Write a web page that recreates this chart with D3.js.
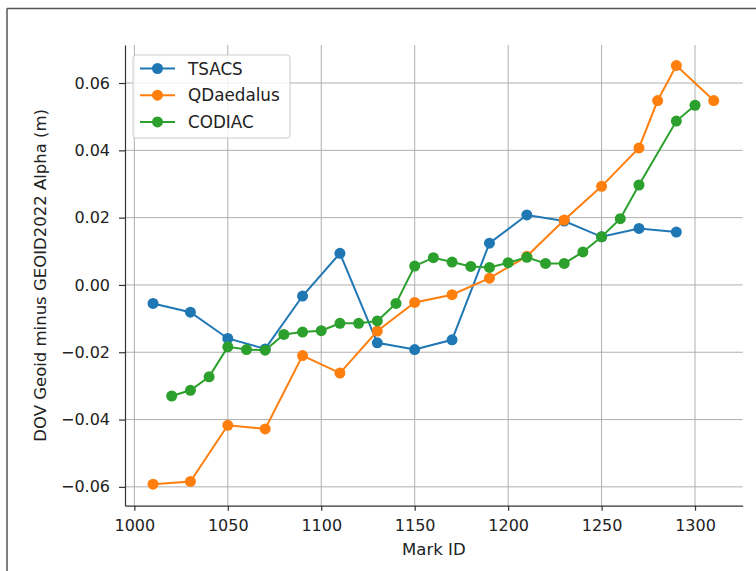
<!DOCTYPE html>
<html lang="en">
  <head>
    <meta charset="UTF-8" />
    <title>DOV Geoid minus GEOID2022 Alpha</title>
    <script src="https://d3js.org/d3.v7.min.js"></script>
    <style>
      body { margin: 0; background: #fff; }
      svg { display: block; font-family: "DejaVu Sans", sans-serif; }
      .grid line { stroke: #b0b0b0; stroke-width: 1; }
      .axis path, .axis line { stroke: #333; stroke-width: 1.2; }
      .axis text { font-size: 16px; fill: #222; font-family: "DejaVu Sans", sans-serif; }
    </style>
  </head>
  <body>
    <svg width="756" height="571"></svg>
<script>

// data
var tsacsX = [1010, 1030, 1050, 1070, 1090, 1110, 1130, 1150, 1170, 1190, 1210, 1230, 1250, 1270, 1290];
var tsacsY = [-0.0055, -0.0081, -0.0159, -0.0190, -0.0033, 0.0094, -0.0172, -0.0192, -0.0163, 0.0124, 0.0208, 0.0190, 0.0143, 0.0168, 0.0157];

var qdX = [1010, 1030, 1050, 1070, 1090, 1110, 1130, 1150, 1170, 1190, 1210, 1230, 1250, 1270, 1280, 1290, 1310];
var qdY = [-0.0592, -0.0584, -0.0417, -0.0428, -0.0210, -0.0262, -0.0137, -0.0052, -0.0029, 0.0020, 0.0085, 0.0193, 0.0293, 0.0407, 0.0548, 0.0652, 0.0548];

var codiacX = [1020, 1030, 1040, 1050, 1060, 1070, 1080, 1090, 1100, 1110, 1120, 1130, 1140, 1150,
               1160, 1170, 1180, 1190, 1200, 1210, 1220, 1230, 1240, 1250, 1260, 1270, 1290, 1300];
var codiacY = [-0.0330, -0.0313, -0.0273, -0.0184, -0.0192, -0.0194, -0.0147, -0.0140, -0.0136, -0.0114, -0.0114, -0.0107, -0.0055, 0.0056,
               0.0081, 0.0068, 0.0055, 0.0052, 0.0066, 0.0082, 0.0064, 0.0064, 0.0098, 0.0143, 0.0197, 0.0297, 0.0487, 0.0534];

var xTicks = [1000, 1050, 1100, 1150, 1200, 1250, 1300];
var yTicks = [-0.06, -0.04, -0.02, 0.00, 0.02, 0.04, 0.06];

var seriesNames = ["TSACS", "QDaedalus", "CODIAC"];
var colors = ["#1f77b4", "#ff7f0e", "#2ca02c"];

var series = [
  { name: seriesNames[0], color: colors[0], pts: tsacsX.map(function (x, i) { return [x, tsacsY[i]]; }) },
  { name: seriesNames[1], color: colors[1], pts: qdX.map(function (x, i) { return [x, qdY[i]]; }) },
  { name: seriesNames[2], color: colors[2], pts: codiacX.map(function (x, i) { return [x, codiacY[i]]; }) }
];

var svg = d3.select("svg");

// frame lines of the screenshot
svg.append("line").attr("x1", 7).attr("x2", 756).attr("y1", 8.5).attr("y2", 8.5)
   .attr("stroke", "#555").attr("stroke-width", 1.5);
svg.append("line").attr("x1", 7).attr("x2", 7).attr("y1", 8.5).attr("y2", 571)
   .attr("stroke", "#555").attr("stroke-width", 1.5);

var plotLeft = 125, plotRight = 742.7, plotTop = 45, plotBottom = 505.7;

var xScale = d3.scaleLinear().domain([995, 1325.5]).range([plotLeft, plotRight]);
var yScale = d3.scaleLinear().domain([-0.0656, 0.0713]).range([plotBottom, plotTop]);

// grid
var grid = svg.append("g").attr("class", "grid");
grid.selectAll(".gx").data(xTicks).enter().append("line")
    .attr("x1", function (d) { return xScale(d); }).attr("x2", function (d) { return xScale(d); })
    .attr("y1", plotTop).attr("y2", plotBottom);
grid.selectAll(".gy").data(yTicks).enter().append("line")
    .attr("x1", plotLeft).attr("x2", plotRight)
    .attr("y1", function (d) { return yScale(d); }).attr("y2", function (d) { return yScale(d); });

// axes
svg.append("g")
   .attr("class", "axis")
   .attr("transform", "translate(0," + plotBottom + ")")
   .call(d3.axisBottom(xScale).tickValues(xTicks).tickFormat(d3.format("d")).tickSize(5).tickPadding(9).tickSizeOuter(0));

svg.append("g")
   .attr("class", "axis")
   .attr("transform", "translate(" + plotLeft + ",0)")
   .call(d3.axisLeft(yScale).tickValues(yTicks).tickFormat(d3.format(".2f")).tickSize(6).tickPadding(9).tickSizeOuter(0));

svg.append("text")
   .attr("x", (plotLeft + plotRight) / 2)
   .attr("y", 555)
   .attr("text-anchor", "middle")
   .attr("font-size", "16.5px")
   .attr("fill", "#222")
   .text("Mark ID");

svg.append("text")
   .attr("transform", "translate(46," + (plotTop + plotBottom) / 2 + ") rotate(-90)")
   .attr("text-anchor", "middle")
   .attr("font-size", "16.5px")
   .attr("fill", "#222")
   .text("DOV Geoid minus GEOID2022 Alpha (m)");

// lines and markers
var line = d3.line().x(function (d) { return xScale(d[0]); }).y(function (d) { return yScale(d[1]); });

series.forEach(function (s) {
  var g = svg.append("g");
  g.append("path")
   .datum(s.pts)
   .attr("d", line)
   .attr("fill", "none")
   .attr("stroke", s.color)
   .attr("stroke-width", 2);
  g.selectAll("circle")
   .data(s.pts)
   .enter().append("circle")
   .attr("cx", function (d) { return xScale(d[0]); })
   .attr("cy", function (d) { return yScale(d[1]); })
   .attr("r", 5.5)
   .attr("fill", s.color);
});

// legend
var lg = svg.append("g");
lg.append("rect")
  .attr("x", 133).attr("y", 55).attr("width", 157).attr("height", 83)
  .attr("rx", 3)
  .attr("fill", "#fff").attr("fill-opacity", 0.8)
  .attr("stroke", "#ccc");

series.forEach(function (s, i) {
  var ly = 68.5 + i * 26.7;
  lg.append("line").attr("x1", 140).attr("x2", 175).attr("y1", ly).attr("y2", ly)
    .attr("stroke", s.color).attr("stroke-width", 2);
  lg.append("circle").attr("cx", 157.5).attr("cy", ly).attr("r", 5.5).attr("fill", s.color);
  lg.append("text").attr("x", 188).attr("y", ly).attr("dy", "0.36em")
    .attr("font-size", "16.8px").attr("fill", "#222")
    .text(s.name);
});

</script>
  </body>
</html>
